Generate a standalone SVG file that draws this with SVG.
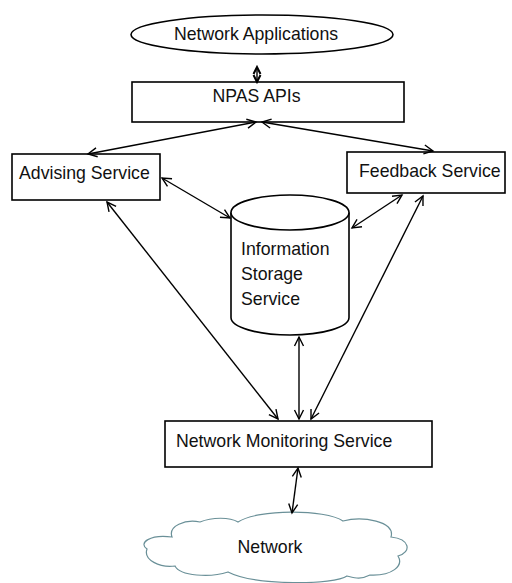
<svg xmlns="http://www.w3.org/2000/svg" width="512" height="583" viewBox="0 0 512 583">
<defs>
<style>
.shape{fill:#fff;stroke:#000;stroke-width:1.6}
.lbl{font-family:"Liberation Sans",Arial,sans-serif;font-size:17.7px;fill:#111}
.conn line{stroke:#000;stroke-width:1.4;fill:none}
.cloud{fill:#fff;stroke:#6a9098;stroke-width:1.2}
</style>
<marker id="ah" viewBox="-10 -6 12 12" refX="0" refY="0" markerWidth="12" markerHeight="12" markerUnits="userSpaceOnUse" orient="auto-start-reverse">
<path d="M-9,-4.5 L0,0 L-9,4.5" fill="none" stroke="#000" stroke-width="1.4"/>
</marker>
<marker id="sm" viewBox="-8 -5 10 10" refX="0" refY="0" markerWidth="10" markerHeight="10" markerUnits="userSpaceOnUse" orient="auto-start-reverse">
<path d="M-7,-3.5 L0,0 L-7,3.5" fill="none" stroke="#000" stroke-width="2"/>
</marker>
</defs>
<rect width="512" height="583" fill="#fff"/>

<g id="network-applications">
<ellipse class="shape" cx="262" cy="34.5" rx="131" ry="19.5"/>
<text class="lbl" x="256" y="39.5" text-anchor="middle">Network Applications</text>
</g>

<g id="npas-apis">
<rect class="shape" x="132" y="82" width="272" height="40"/>
<text class="lbl" x="256.5" y="101.7" text-anchor="middle">NPAS APIs</text>
</g>

<g id="advising-service">
<rect class="shape" x="12" y="154" width="148" height="46"/>
<text class="lbl" x="19" y="179">Advising Service</text>
</g>

<g id="feedback-service">
<rect class="shape" x="347" y="152" width="158" height="41"/>
<text class="lbl" x="359" y="177">Feedback Service</text>
</g>

<g id="information-storage-service">
<path class="shape" d="M231,212.5 L231,317.5 A59,17.5 0 0 0 349,317.5 L349,212.5"/>
<ellipse class="shape" cx="290" cy="212.5" rx="59" ry="17.5"/>
<text class="lbl" x="241" y="255">Information</text>
<text class="lbl" x="241" y="280">Storage</text>
<text class="lbl" x="241" y="305">Service</text>
</g>

<g id="network-monitoring-service">
<rect class="shape" x="165" y="421" width="267" height="46"/>
<text class="lbl" x="176" y="447">Network Monitoring Service</text>
</g>

<g id="network">
<path class="cloud" d="M147,549 C138,543 150,534 172,537 C168,526 185,519 200,522 C212,517 230,517 238,522 C258,509 325,509 343,521 C362,516 396,521 391,537 C410,539 412,552 398,556 C404,566 392,576 370,575 C360,580 355,578 347,576 C335,585 255,586 228,572 C210,578 180,576 175,566 C160,568 143,560 147,549 Z"/>
<text class="lbl" x="270" y="553" text-anchor="middle">Network</text>
</g>

<g id="connectors" class="conn">
<line x1="257" y1="67" x2="257" y2="82" marker-start="url(#sm)" marker-end="url(#sm)"/>
<line x1="256" y1="122" x2="88" y2="154" marker-start="url(#ah)" marker-end="url(#ah)"/>
<line x1="262" y1="122" x2="433" y2="151" marker-start="url(#ah)" marker-end="url(#ah)"/>
<line x1="162" y1="178" x2="230" y2="218" marker-start="url(#ah)" marker-end="url(#ah)"/>
<line x1="352" y1="228" x2="402" y2="195" marker-start="url(#ah)" marker-end="url(#ah)"/>
<line x1="107" y1="202" x2="278" y2="419" marker-start="url(#ah)" marker-end="url(#ah)"/>
<line x1="423" y1="196" x2="311" y2="419" marker-start="url(#ah)" marker-end="url(#ah)"/>
<line x1="299" y1="337" x2="299" y2="419" marker-start="url(#ah)" marker-end="url(#ah)"/>
<line x1="298" y1="468" x2="292" y2="513" marker-start="url(#ah)" marker-end="url(#ah)"/>
</g>
</svg>
